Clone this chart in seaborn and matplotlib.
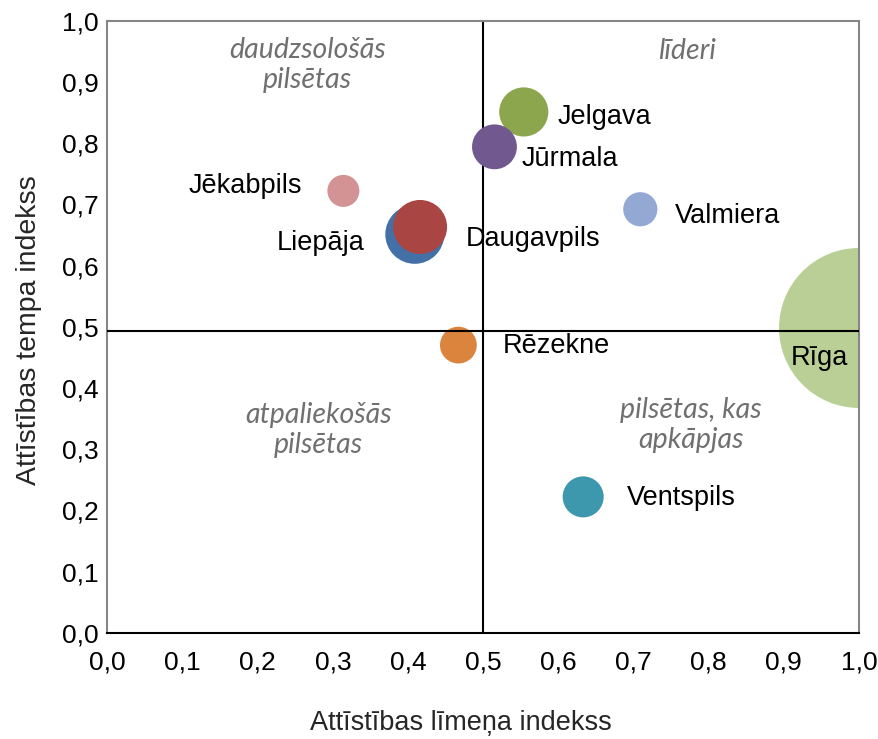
import matplotlib
matplotlib.use("Agg")
import matplotlib.pyplot as plt
import seaborn as sns
import pandas as pd

# ---- data ----
cities = ["Rīga", "Liepāja", "Daugavpils", "Jelgava", "Jūrmala",
          "Ventspils", "Rēzekne", "Jēkabpils", "Valmiera"]
level_index = [1.000, 0.409, 0.416, 0.554, 0.515, 0.633, 0.467, 0.314, 0.709]
tempo_index = [0.498, 0.651, 0.663, 0.851, 0.794, 0.222, 0.470, 0.722, 0.692]
bubble_size = [700, 95, 80, 66, 55, 46, 37, 28, 32]
avg_level = 0.5
avg_tempo = 0.493
tick_values = [0.0, 0.1, 0.2, 0.3, 0.4, 0.5, 0.6, 0.7, 0.8, 0.9, 1.0]
x_title = "Attīstības līmeņa indekss"
y_title = "Attīstības tempa indekss"
quadrants = ["daudzsološās\npilsētas", "līderi",
             "atpaliekošās\npilsētas", "pilsētas, kas\napkāpjas"]

# ---- styles ----
colors = {
    "Rīga": "#b9cf96", "Liepāja": "#4470a8", "Daugavpils": "#a94643",
    "Jelgava": "#8ba64c", "Jūrmala": "#71588f", "Ventspils": "#3d98ae",
    "Rēzekne": "#db843d", "Jēkabpils": "#d39394", "Valmiera": "#93a9d4",
}
label_offsets = {  # pixels, (dx, dy, ha)
    "Rīga": (-40, -30, "center"), "Liepāja": (-50, -9, "right"),
    "Daugavpils": (46, -12, "left"), "Jelgava": (34, -5, "left"),
    "Jūrmala": (27, -12, "left"), "Ventspils": (44, -1, "left"),
    "Rēzekne": (44, -1, "left"), "Jēkabpils": (-41, 5, "right"),
    "Valmiera": (35, -7, "left"),
}

sns.set_style("white")
plt.rcParams["font.family"] = ["Liberation Sans", "DejaVu Sans"]

df = pd.DataFrame({"city": cities, "x": level_index, "y": tempo_index,
                   "size": bubble_size})

fig = plt.figure(figsize=(8.79, 7.39), dpi=100)
ax = fig.add_axes([0.1221, 0.1438, 0.8552, 0.8281])

# radius 80 px for the largest bubble -> area in pt^2
k = (1.44 * 80) ** 2 / max(bubble_size)
sizes = {v: v * k for v in bubble_size}

ax.axvline(avg_level, color="black", lw=1.5, zorder=1)
sns.scatterplot(data=df, x="x", y="y", hue="city", palette=colors,
                size="size", sizes=sizes, linewidth=0, alpha=1,
                legend=False, ax=ax, zorder=2)
ax.plot([0, 1], [avg_tempo, avg_tempo], color="black", lw=1.5, zorder=3)

for c, xv, yv in zip(cities, level_index, tempo_index):
    dx, dy, ha = label_offsets[c]
    ax.annotate(c, (xv, yv), xytext=(dx, dy), textcoords="offset pixels",
                ha=ha, va="center", fontsize=19.5, color="black", zorder=4)

qpos = [(0.266, 0.928), (0.771, 0.951), (0.281, 0.331), (0.776, 0.339)]
for t, (qx, qy) in zip(quadrants, qpos):
    ax.text(qx, qy, t, ha="center", va="center", fontsize=20.5,
            style="italic", color="#707070", family=["Lato", "DejaVu Sans"],
            linespacing=1.2)

ax.set_xlim(0, 1)
ax.set_ylim(0, 1)
fmt = [f"{v:.1f}".replace(".", ",") for v in tick_values]
ax.set_xticks(tick_values)
ax.set_xticklabels(fmt)
ax.set_yticks(tick_values)
ax.set_yticklabels(fmt)
ax.tick_params(axis="both", direction="out", length=5, width=1,
               labelsize=19, pad=1.5)
ax.tick_params(axis="x", pad=8, colors="black")
ax.tick_params(axis="y", color="#555555", labelcolor="black")
ax.set_xlabel(x_title, fontsize=19.5)
ax.set_ylabel(y_title, fontsize=20.5)
ax.xaxis.set_label_coords(0.47, -0.127)
ax.yaxis.set_label_coords(-0.087, 0.495)

for side in ["left", "top", "right"]:
    ax.spines[side].set_color("#868686")
    ax.spines[side].set_linewidth(1.5)
ax.spines["bottom"].set_color("black")
ax.spines["bottom"].set_linewidth(1.5)

fig.savefig("out.png", dpi=100)
